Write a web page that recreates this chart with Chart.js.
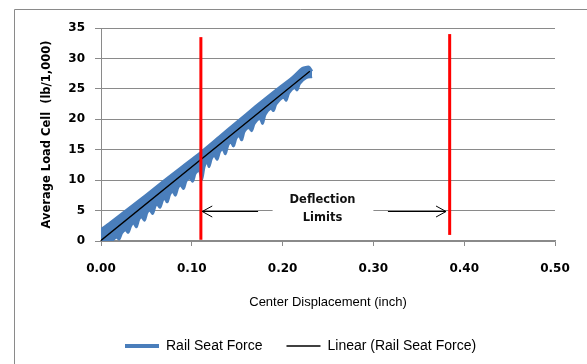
<!DOCTYPE html>
<html>
<head>
<meta charset="utf-8">
<script src="https://cdn.jsdelivr.net/npm/chart.js@4/dist/chart.umd.min.js"></script>
<style>
  html, body { margin: 0; padding: 0; background: #fff; }
  canvas { display: block; }
</style>
</head>
<body>
<canvas id="forceChart" width="587" height="364"></canvas>
<script>
// Rail seat force vs. center displacement (upper / lower edge of the recorded band)
const upperX = [0.000, 0.010, 0.030, 0.050, 0.070, 0.090, 0.110, 0.130, 0.150, 0.170, 0.190, 0.210, 0.222, 0.229, 0.2325];
const upperY = [1.9, 3.0, 5.3, 7.6, 10.0, 12.3, 14.6, 17.1, 19.6, 22.1, 24.5, 26.8, 28.4, 28.6, 27.9];

const lowerX = [0.000, 0.012, 0.017, 0.020, 0.023, 0.027, 0.030, 0.033, 0.036, 0.039, 0.042, 0.045, 0.048, 0.051,
  0.054, 0.057, 0.060, 0.062, 0.065, 0.068, 0.070, 0.073, 0.076, 0.079, 0.082, 0.085, 0.088, 0.091, 0.094, 0.098,
  0.101, 0.104, 0.108, 0.111, 0.114, 0.117, 0.119, 0.122, 0.125, 0.128, 0.131, 0.134, 0.137, 0.140, 0.143, 0.146,
  0.149, 0.152, 0.155, 0.158, 0.163, 0.166, 0.169, 0.175, 0.178, 0.181, 0.187, 0.190, 0.193, 0.201, 0.204, 0.207,
  0.213, 0.216, 0.219, 0.226, 0.2325];
const lowerY = [0.0, 0.1, 0.6, 0.3, 1.3, 1.8, 1.4, 2.5, 2.9, 2.3, 3.6, 3.9, 3.4, 4.7,
  5.0, 4.5, 5.8, 6.0, 5.5, 6.7, 7.0, 6.4, 7.7, 8.1, 7.5, 8.8, 9.1, 8.6, 9.9, 10.3,
  9.8, 11.1, 11.6, 10.1, 12.3, 13.0, 12.2, 13.6, 14.0, 13.4, 14.7, 15.1, 14.3, 15.8, 16.2, 15.6,
  16.9, 17.3, 16.6, 18.0, 18.6, 18.1, 19.3, 20.1, 19.3, 20.8, 21.8, 21.4, 22.5, 23.6, 23.1, 24.3,
  25.2, 24.8, 25.9, 26.8, 27.0];

// Linear trend of the rail seat force
const trendX = [0.0, 0.23];
const trendY = [0.1, 27.9];

// Deflection limit markers
const limitLowX = [0.11, 0.11];
const limitLowY = [0.2, 33.5];
const limitHighX = [0.384, 0.384];
const limitHighY = [1.0, 34.0];

const noteText = ['Deflection', 'Limits'];
const noteX = 0.244;
const noteY = [6.8, 3.7];
const arrowY = 5;
const leftArrow = [0.173, 0.1115];
const rightArrow = [0.316, 0.380];

const xTicks = [0, 0.1, 0.2, 0.3, 0.4, 0.5];
const yTicks = [0, 5, 10, 15, 20, 25, 30, 35];

const BLUE = '#4A7EBB';
const GREY = '#8a8a8a';

const pts = (xs, ys) => xs.map((x, i) => ({ x: x, y: ys[i] }));

// outer chart frame (left and top edge only)
const framePlugin = {
  id: 'frame',
  beforeDraw(chart) {
    const c = chart.ctx;
    c.save();
    c.fillStyle = '#fff';
    c.fillRect(0, 0, chart.width, chart.height);
    c.strokeStyle = GREY;
    c.lineWidth = 1;
    c.beginPath();
    c.moveTo(14.5, chart.height);
    c.lineTo(14.5, 9.5);
    c.lineTo(chart.width, 9.5);
    c.stroke();
    c.restore();
  }
};

function arrow(c, x0, x1, y, head) {
  c.beginPath();
  c.moveTo(x0, y);
  c.lineTo(x1, y);
  const dir = x1 > x0 ? -1 : 1;
  c.moveTo(x1 + dir * head, y - head * 0.55);
  c.lineTo(x1, y);
  c.lineTo(x1 + dir * head, y + head * 0.55);
  c.stroke();
}

// "Deflection Limits" label box with its two arrows
const notePlugin = {
  id: 'note',
  afterDatasetsDraw(chart) {
    const c = chart.ctx;
    const xs = chart.scales.x, ys = chart.scales.y;
    c.save();
    c.fillStyle = '#fff';
    const bx0 = xs.getPixelForValue(0.189), bx1 = xs.getPixelForValue(0.300);
    const by0 = ys.getPixelForValue(9.3), by1 = ys.getPixelForValue(1.0);
    c.fillRect(bx0, by0, bx1 - bx0, by1 - by0);
    c.fillStyle = '#111';
    c.font = 'bold 11.5px "DejaVu Sans"';
    c.textAlign = 'center';
    c.textBaseline = 'middle';
    noteText.forEach((t, i) => c.fillText(t, xs.getPixelForValue(noteX), ys.getPixelForValue(noteY[i])));
    c.strokeStyle = '#000';
    c.lineWidth = 1;
    const py = Math.round(ys.getPixelForValue(arrowY)) + 0.5;
    arrow(c, xs.getPixelForValue(leftArrow[0]), xs.getPixelForValue(leftArrow[1]), py, 10);
    arrow(c, xs.getPixelForValue(rightArrow[0]), xs.getPixelForValue(rightArrow[1]), py, 10);
    c.restore();
  }
};

new Chart(document.getElementById('forceChart'), {
  type: 'scatter',
  data: {
    datasets: [
      {
        label: 'Rail Seat Force',
        data: pts(upperX, upperY),
        showLine: true,
        borderColor: BLUE,
        backgroundColor: BLUE,
        borderWidth: 2.5,
        pointRadius: 0,
        tension: 0.2,
        fill: '+1',
        order: 3
      },
      {
        label: 'Rail Seat Force (lower)',
        data: pts(lowerX, lowerY),
        showLine: true,
        borderColor: BLUE,
        backgroundColor: BLUE,
        borderWidth: 2.5,
        pointRadius: 0,
        tension: 0.3,
        fill: false,
        order: 4
      },
      {
        label: 'Linear (Rail Seat Force)',
        data: pts(trendX, trendY),
        showLine: true,
        borderColor: '#000',
        backgroundColor: '#000',
        borderWidth: 1.3,
        pointRadius: 0,
        order: 2
      },
      {
        label: 'limit low',
        data: pts(limitLowX, limitLowY),
        showLine: true,
        borderColor: '#ff0000',
        borderWidth: 3,
        pointRadius: 0,
        order: 1
      },
      {
        label: 'limit high',
        data: pts(limitHighX, limitHighY),
        showLine: true,
        borderColor: '#ff0000',
        borderWidth: 3,
        pointRadius: 0,
        order: 1
      }
    ]
  },
  options: {
    responsive: false,
    animation: false,
    devicePixelRatio: 1,
    layout: { padding: { left: 14, right: 32, top: 28, bottom: 1 } },
    scales: {
      x: {
        type: 'linear',
        min: 0,
        max: 0.5,
        afterBuildTicks: s => { s.ticks = xTicks.map(v => ({ value: v })); },
        afterFit: s => { s.height = 74; },
        ticks: {
          padding: 16,
          color: '#000',
          font: { family: 'DejaVu Sans', size: 12, weight: 'bold' },
          callback: v => Number(v).toFixed(2)
        },
        grid: { drawOnChartArea: false, drawTicks: true, tickLength: 5, color: GREY },
        border: { display: true, color: GREY, width: 1.5 },
        title: {
          display: true,
          text: 'Center Displacement (inch)',
          color: '#000',
          font: { family: 'Liberation Sans', size: 13 },
          padding: { top: 0, bottom: 5 }
        }
      },
      y: {
        min: 0,
        max: 35,
        afterBuildTicks: s => { s.ticks = yTicks.map(v => ({ value: v })); },
        afterFit: s => { s.width = 87; },
        ticks: {
          padding: 10,
          color: '#000',
          font: { family: 'DejaVu Sans', size: 12, weight: 'bold' }
        },
        grid: { color: GREY, tickLength: 6, lineWidth: 1 },
        border: { display: true, color: GREY },
        title: {
          display: true,
          text: 'Average Load Cell  (lb/1,000)',
          color: '#000',
          font: { family: 'DejaVu Sans', size: 11.5, weight: 'bold' },
          padding: { top: 26, bottom: 0 }
        }
      }
    },
    plugins: {
      tooltip: { enabled: false },
      legend: {
        position: 'bottom',
        align: 'start',
        fullSize: false,
        labels: {
          padding: 24,
          color: '#000',
          font: { family: 'Liberation Sans', size: 14 },
          usePointStyle: true,
          pointStyle: 'line',
          pointStyleWidth: 34,
          generateLabels(chart) {
            const items = Chart.defaults.plugins.legend.labels.generateLabels(chart);
            return items
              .filter(it => it.datasetIndex === 0 || it.datasetIndex === 2)
              .sort((a, b) => a.datasetIndex - b.datasetIndex)
              .map(it => Object.assign(it, { lineWidth: it.datasetIndex === 0 ? 4 : 1.3, pointStyle: 'line' }));
          }
        }
      }
    }
  },
  plugins: [framePlugin, notePlugin]
});
</script>
</body>
</html>
